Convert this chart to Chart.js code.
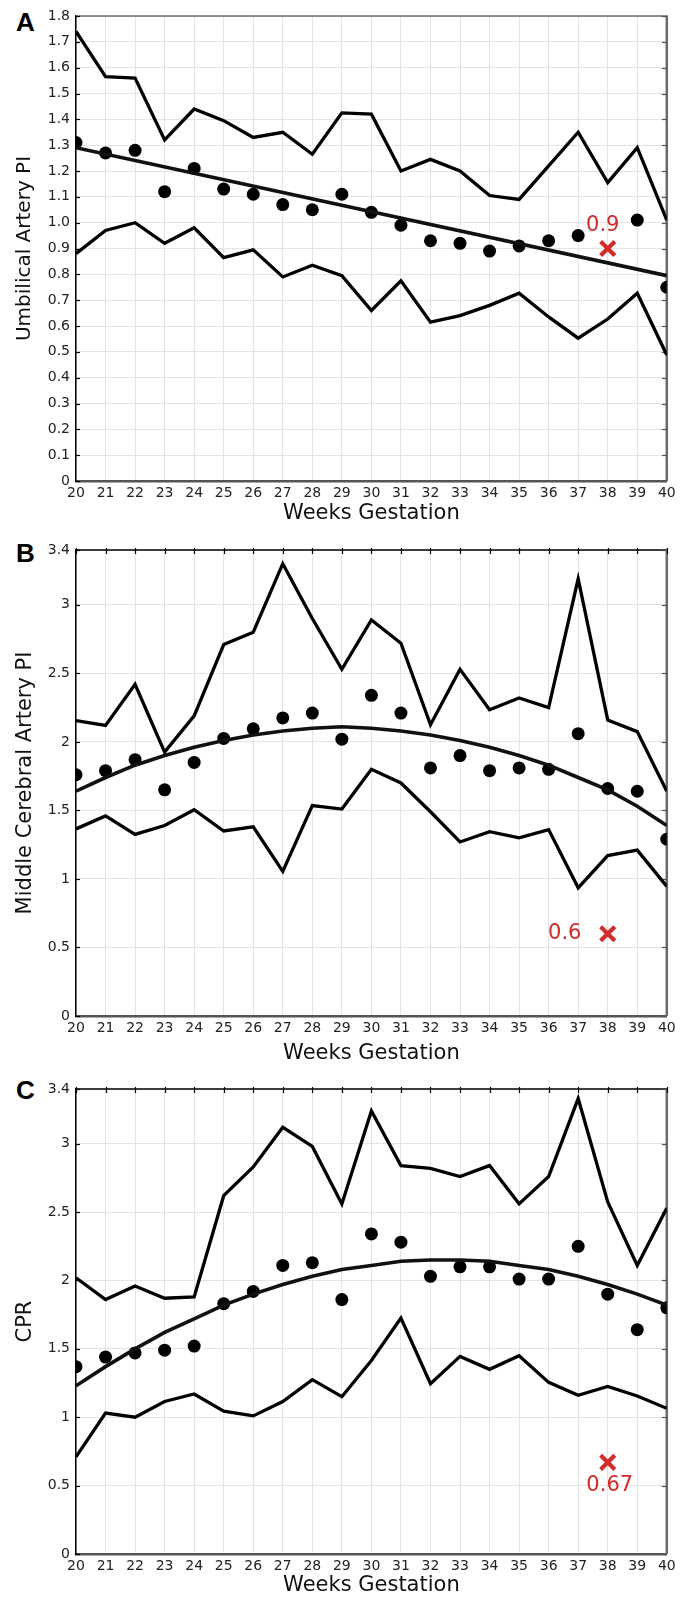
<!DOCTYPE html>
<html>
<head>
<meta charset="utf-8">
<script src="https://cdn.jsdelivr.net/npm/chart.js@4.4.1/dist/chart.umd.min.js"></script>
<style>
  body { margin: 0; background: #fff; width: 681px; height: 1598px; position: relative; overflow: hidden; }
  canvas { position: absolute; left: 0; }
  .letter { position: absolute; left: 16px; font: bold 26px "Liberation Sans", Arial, sans-serif; line-height: 26px; color: #000; }
</style>
</head>
<body>
<div class="letter" style="top:9px">A</div>
<div class="letter" style="top:540px">B</div>
<div class="letter" style="top:1077px">C</div>
<canvas id="chartA" width="681" height="530" style="top:0"></canvas>
<canvas id="chartB" width="681" height="540" style="top:530px"></canvas>
<canvas id="chartC" width="681" height="528" style="top:1070px"></canvas>
<script>
// weeks of gestation (x axis)
const weeks = [20, 21, 22, 23, 24, 25, 26, 27, 28, 29, 30, 31, 32, 33, 34, 35, 36, 37, 38, 39, 40]

// A: umbilical artery PI
const uaUpper = [1.74, 1.565, 1.56, 1.32, 1.44, 1.395, 1.33, 1.35, 1.265, 1.425, 1.42, 1.20, 1.245, 1.20, 1.105, 1.09, 1.22, 1.35, 1.155, 1.29, 1.01]
const uaLower = [0.88, 0.97, 1.0, 0.92, 0.98, 0.865, 0.895, 0.79, 0.835, 0.795, 0.66, 0.775, 0.615, 0.64, 0.68, 0.727, 0.635, 0.553, 0.627, 0.727, 0.488]
const uaMean = [1.31, 1.27, 1.28, 1.12, 1.21, 1.13, 1.11, 1.07, 1.05, 1.11, 1.04, 0.99, 0.93, 0.92, 0.89, 0.91, 0.93, 0.95, null, 1.01, 0.75]
const uaFitWeeks = [20, 40]
const uaFit = [1.29, 0.795]
const uaPatient = [38, 0.9]
const uaTicks = [0, 0.1, 0.2, 0.3, 0.4, 0.5, 0.6, 0.7, 0.8, 0.9, 1.0, 1.1, 1.2, 1.3, 1.4, 1.5, 1.6, 1.7, 1.8]

// B: middle cerebral artery PI
const mcaUpper = [2.155, 2.12, 2.42, 1.925, 2.19, 2.71, 2.80, 3.30, 2.90, 2.53, 2.89, 2.72, 2.125, 2.53, 2.235, 2.32, 2.25, 3.19, 2.16, 2.075, 1.64]
const mcaLower = [1.365, 1.46, 1.325, 1.39, 1.505, 1.35, 1.38, 1.055, 1.535, 1.51, 1.80, 1.70, 1.49, 1.27, 1.345, 1.30, 1.36, 0.935, 1.17, 1.21, 0.945]
const mcaMean = [1.76, 1.79, 1.87, 1.65, 1.85, 2.025, 2.095, 2.175, 2.21, 2.02, 2.34, 2.21, 1.81, 1.90, 1.79, 1.81, 1.80, 2.06, 1.66, 1.64, 1.29]
const mcaFit = [1.64, 1.74, 1.83, 1.90, 1.96, 2.01, 2.05, 2.08, 2.10, 2.11, 2.10, 2.08, 2.05, 2.01, 1.96, 1.90, 1.83, 1.74, 1.65, 1.53, 1.39]
const mcaPatient = [38, 0.6]
const mcaTicks = [0, 0.5, 1, 1.5, 2, 2.5, 3, 3.4]

// C: cerebroplacental ratio
const cprUpper = [2.02, 1.86, 1.96, 1.87, 1.88, 2.62, 2.83, 3.12, 2.98, 2.56, 3.24, 2.84, 2.82, 2.76, 2.84, 2.56, 2.76, 3.33, 2.575, 2.11, 2.53]
const cprLower = [0.71, 1.03, 1.0, 1.115, 1.17, 1.045, 1.01, 1.115, 1.275, 1.15, 1.415, 1.725, 1.245, 1.445, 1.35, 1.45, 1.255, 1.16, 1.225, 1.155, 1.065]
const cprMean = [1.37, 1.44, 1.47, 1.49, 1.52, 1.83, 1.92, 2.11, 2.13, 1.86, 2.34, 2.28, 2.03, 2.10, 2.10, 2.01, 2.01, 2.25, 1.90, 1.64, 1.80]
const cprFit = [1.23, 1.37, 1.50, 1.62, 1.72, 1.82, 1.90, 1.97, 2.03, 2.08, 2.11, 2.14, 2.15, 2.15, 2.14, 2.11, 2.08, 2.03, 1.97, 1.90, 1.82]
const cprPatient = [38, 0.67]
const cprTicks = mcaTicks

const RED = '#d22b2b'
const FONT = '"DejaVu Sans", Verdana, sans-serif'

function pts(xs, ys) {
    return xs.map((x, i) => ({ x: x, y: ys[i] })).filter(p => p.y !== null)
}

// top/right border with inward ticks, plus the red value label
const framePlugin = {
    id: 'frame',
    beforeDatasetsDraw(chart, args, opts) {
        const { ctx, chartArea: a, scales } = chart
        const x = scales.x, y = scales.y
        ctx.save()
        ctx.lineCap = 'butt'
        ctx.strokeStyle = opts.topColor
        ctx.lineWidth = 1.5
        ctx.beginPath(); ctx.moveTo(a.left, a.top); ctx.lineTo(a.right + 1, a.top); ctx.stroke()
        ctx.strokeStyle = '#6a6a6a'
        ctx.lineWidth = 2.5
        ctx.beginPath(); ctx.moveTo(a.right, a.top); ctx.lineTo(a.right, a.bottom); ctx.stroke()
        ctx.lineWidth = 1.2
        y.ticks.forEach(t => {
            const py = Math.round(y.getPixelForValue(t.value)) + 0.5
            ctx.strokeStyle = '#000'
            ctx.beginPath(); ctx.moveTo(a.left, py); ctx.lineTo(a.left + 4, py); ctx.stroke()
            ctx.strokeStyle = '#555'
            ctx.beginPath(); ctx.moveTo(a.right - 5, py); ctx.lineTo(a.right, py); ctx.stroke()
        })
        if (opts.topTicks) {
            ctx.strokeStyle = '#000'
            x.ticks.forEach(t => {
                const px = Math.round(x.getPixelForValue(t.value)) + 0.5
                ctx.beginPath(); ctx.moveTo(px, a.top - 2); ctx.lineTo(px, a.top + 4); ctx.stroke()
            })
        }
        ctx.restore()
    },
    afterDatasetsDraw(chart, args, opts) {
        const { ctx, scales } = chart
        const p = opts.patient
        ctx.save()
        ctx.fillStyle = RED
        ctx.font = '21px ' + FONT
        ctx.textAlign = 'center'
        ctx.textBaseline = 'middle'
        ctx.fillText(String(p[1]), scales.x.getPixelForValue(p[0]) + opts.dx, scales.y.getPixelForValue(p[1]) + opts.dy)
        ctx.restore()
    }
}

function makeChart(id, c) {
    return new Chart(document.getElementById(id), {
        type: 'scatter',
        data: {
            datasets: [
                { data: pts(weeks, c.upper), showLine: true, borderColor: '#000', borderWidth: 3.3, pointRadius: 0 },
                { data: pts(weeks, c.lower), showLine: true, borderColor: '#000', borderWidth: 3.3, pointRadius: 0 },
                { data: pts(c.fitWeeks || weeks, c.fit), showLine: true, borderColor: '#111', borderWidth: 3.6, pointRadius: 0 },
                { data: pts(weeks, c.mean), showLine: false, pointRadius: 6.5, backgroundColor: '#000', borderWidth: 0 },
                { data: [{ x: c.patient[0], y: c.patient[1] }], showLine: false, pointStyle: 'crossRot', pointRadius: 10, borderWidth: 4.2, borderColor: RED }
            ]
        },
        options: {
            responsive: false,
            animation: false,
            events: [],
            layout: { padding: { top: c.padTop, right: 9, left: 0, bottom: c.padBottom } },
            scales: {
                x: {
                    type: 'linear', min: 20, max: 40,
                    afterBuildTicks: s => { s.ticks = weeks.map(v => ({ value: v })) },
                    afterFit: s => { s.height = c.xHeight },
                    grid: { color: '#e4e4e4', lineWidth: 1, drawTicks: false },
                    border: { color: '#555', width: 2.5 },
                    ticks: { color: '#222', padding: 4, maxRotation: 0, autoSkip: false, font: { family: FONT, size: 14 }, callback: v => String(v) },
                    title: { display: true, text: 'Weeks Gestation', color: '#111', font: { family: FONT, size: 21 }, padding: { top: 0, bottom: 0 } }
                },
                y: {
                    min: 0, max: c.ticks[c.ticks.length - 1],
                    afterBuildTicks: s => { s.ticks = c.ticks.map(v => ({ value: v })) },
                    afterFit: s => { s.width = 76 },
                    grid: { color: '#e4e4e4', lineWidth: 1, drawTicks: false },
                    border: { color: '#000', width: 1.5 },
                    ticks: { color: '#222', padding: 6, autoSkip: false, font: { family: FONT, size: 14 }, callback: c.fmt },
                    title: { display: true, text: c.title, color: '#111', font: { family: FONT, size: c.titleSize }, padding: { top: 13, bottom: 0 } }
                }
            },
            plugins: {
                legend: { display: false },
                tooltip: { enabled: false },
                frame: { topColor: c.topColor, topTicks: c.topTicks, patient: c.patient, dx: c.dx, dy: c.dy }
            }
        },
        plugins: [framePlugin]
    })
}

makeChart('chartA', {
    upper: uaUpper, lower: uaLower, mean: uaMean, fit: uaFit, fitWeeks: uaFitWeeks, patient: uaPatient,
    ticks: uaTicks, fmt: v => v === 0 ? '0' : v.toFixed(1),
    title: 'Umbilical Artery PI', titleSize: 20,
    padTop: 16, padBottom: 4, xHeight: 45,
    topColor: '#6a6a6a', topTicks: false, dx: -5, dy: -23
})

makeChart('chartB', {
    upper: mcaUpper, lower: mcaLower, mean: mcaMean, fit: mcaFit, patient: mcaPatient,
    ticks: mcaTicks, fmt: v => String(v),
    title: 'Middle Cerebral Artery PI', titleSize: 21,
    padTop: 20, padBottom: 4, xHeight: 50,
    topColor: '#000', topTicks: true, dx: -43, dy: 0
})

makeChart('chartC', {
    upper: cprUpper, lower: cprLower, mean: cprMean, fit: cprFit, patient: cprPatient,
    ticks: cprTicks, fmt: v => String(v),
    title: 'CPR', titleSize: 21,
    padTop: 19, padBottom: 0, xHeight: 44,
    topColor: '#000', topTicks: true, dx: 2, dy: 23
})
</script>
</body>
</html>
